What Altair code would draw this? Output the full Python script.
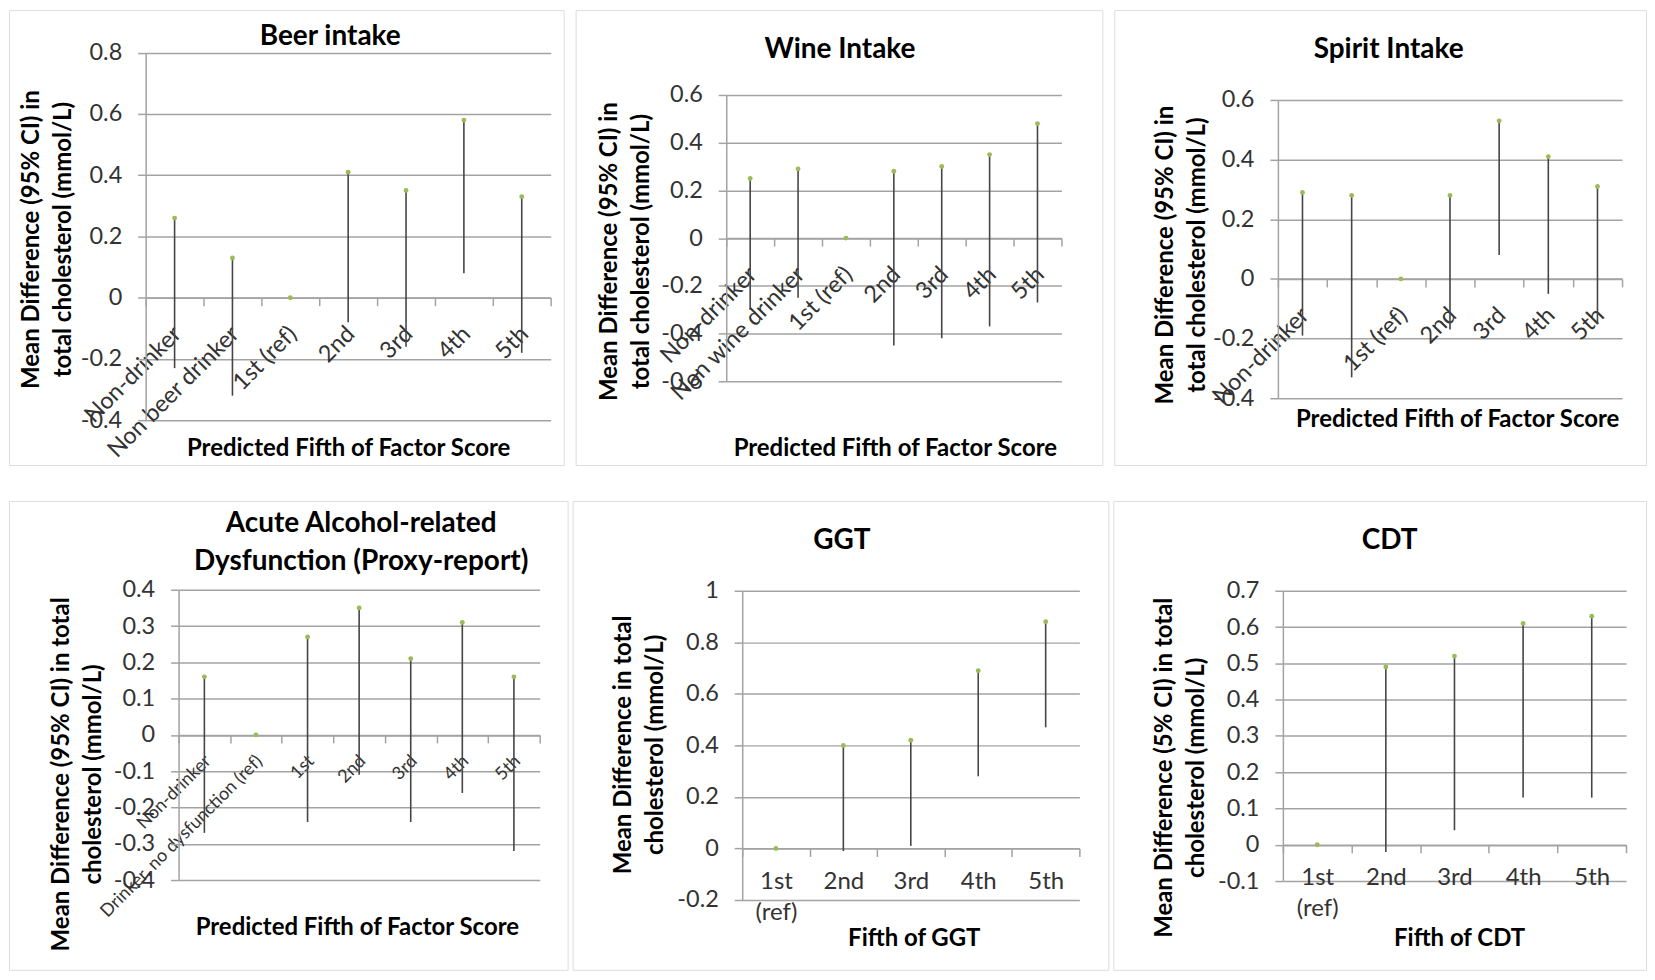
import altair as alt
import pandas as pd

FONT = "Lato"
GREEN = "#9BBB59"
LINE = "#454545"
GRID = "#a3a3a3"
TXT = "#333333"

# ---------------- data ----------------
beer_cats = ["Non-drinker", "Non beer drinker", "1st (ref)", "2nd", "3rd", "4th", "5th"]
beer_low = [-0.23, -0.32, 0.0, -0.08, -0.16, 0.08, -0.18]
beer_high = [0.26, 0.13, 0.0, 0.41, 0.35, 0.58, 0.33]
beer_ticks = [-0.4, -0.2, 0, 0.2, 0.4, 0.6, 0.8]

wine_cats = ["Non-drinker", "Non wine drinker", "1st (ref)", "2nd", "3rd", "4th", "5th"]
wine_low = [-0.30, -0.25, 0.0, -0.45, -0.42, -0.37, -0.27]
wine_high = [0.25, 0.29, 0.0, 0.28, 0.30, 0.35, 0.48]
wine_ticks = [-0.6, -0.4, -0.2, 0, 0.2, 0.4, 0.6]

spirit_cats = ["Non-drinker", " ", "1st (ref)", "2nd", "3rd", "4th", "5th"]
spirit_low = [-0.19, -0.33, 0.0, -0.17, 0.08, -0.05, -0.15]
spirit_high = [0.29, 0.28, 0.0, 0.28, 0.53, 0.41, 0.31]
spirit_ticks = [-0.4, -0.2, 0, 0.2, 0.4, 0.6]

acute_cats = ["Non-drinker", "Drinker, no dysfunction (ref)", "1st", "2nd", "3rd", "4th", "5th"]
acute_low = [-0.27, 0.0, -0.24, -0.11, -0.24, -0.16, -0.32]
acute_high = [0.16, 0.0, 0.27, 0.35, 0.21, 0.31, 0.16]
acute_ticks = [-0.4, -0.3, -0.2, -0.1, 0, 0.1, 0.2, 0.3, 0.4]

ggt_cats = ["1st\n(ref)", "2nd", "3rd", "4th", "5th"]
ggt_low = [0.0, -0.01, 0.01, 0.28, 0.47]
ggt_high = [0.0, 0.40, 0.42, 0.69, 0.88]
ggt_ticks = [-0.2, 0, 0.2, 0.4, 0.6, 0.8, 1]

cdt_cats = ["1st\n(ref)", "2nd", "3rd", "4th", "5th"]
cdt_low = [0.0, -0.02, 0.04, 0.13, 0.13]
cdt_high = [0.0, 0.49, 0.52, 0.61, 0.63]
cdt_ticks = [-0.1, 0, 0.1, 0.2, 0.3, 0.4, 0.5, 0.6, 0.7]

titles = {
    "beer": "Beer intake",
    "wine": "Wine Intake",
    "spirit": "Spirit Intake",
    "acute": "Acute Alcohol-related\nDysfunction (Proxy-report)",
    "ggt": "GGT",
    "cdt": "CDT",
}
ytitle_a = ["Mean Difference (95% CI) in", "total cholesterol (mmol/L)"]
ytitle_b = ["Mean Difference (95% CI) in total", "cholesterol (mmol/L)"]
ytitle_ggt = ["Mean Difference in total", "cholesterol (mmol/L)"]
ytitle_cdt = ["Mean Difference (5% CI) in total", "cholesterol (mmol/L)"]
xtitle_factor = "Predicted Fifth of Factor Score"
xtitle_ggt = "Fifth of GGT"
xtitle_cdt = "Fifth of CDT"

Y_LABEL_EXPR = "replace(format(datum.value, '.1~f'), '\u2212', '-')"


def panel(cats, low, high, ticks, title, ytitle, xtitle, W, H, x0, x1, yt, yb,
          title_x, title_y, ytitle_x, ytitle_y, xtitle_x, xtitle_y,
          rotated=True, cat_size=23.5, cat_pad=16, cat_shift=-6):
    df = pd.DataFrame({"cat": cats, "low": low, "high": high})
    ymin, ymax = ticks[0], ticks[-1]
    y0 = yb - (0 - ymin) / (ymax - ymin) * (yb - yt)

    xscale = alt.Scale(type="band", domain=cats, range=[x0, x1],
                       paddingInner=0, paddingOuter=0)
    yscale = alt.Scale(domain=[ymin, ymax], range=[yb, yt], nice=False, zero=False)

    xkw = dict(
        orient="bottom", offset=y0 - H, grid=False, domainColor=GRID, domainWidth=1.5,
        tickColor=GRID, tickWidth=1.5, tickSize=8, tickBand="extent",
        labelFont=FONT, labelFontSize=cat_size, labelColor=TXT, labelLimit=1000,
        labelOverlap=False, labelPadding=cat_pad,
        title=xtitle, titleFont=FONT, titleFontSize=24, titleFontWeight="bold",
        titleColor="black", titleX=xtitle_x, titleY=xtitle_y - y0, titleAlign="center",
        titleBaseline="middle", titleAngle=0, titleLimit=1000,
    )
    if rotated:
        xkw.update(labelAngle=-45, labelAlign="right", labelBaseline="top",
                   labelOffset=cat_shift)
    else:
        xkw.update(labelAngle=0, labelAlign="center", labelBaseline="top",
                   labelExpr="split(datum.label, '\\n')", labelLineHeight=31)
    xaxis = alt.Axis(**xkw)

    yaxis = alt.Axis(
        orient="left", offset=-x0, values=ticks, labelExpr=Y_LABEL_EXPR,
        grid=True, gridColor=GRID, gridWidth=1.5, domainColor=GRID, domainWidth=1.5,
        tickColor=GRID, tickWidth=1.5, tickSize=8,
        labelFont=FONT, labelFontSize=23.5, labelColor=TXT, labelPadding=16,
        labelAlign="right", labelBaseline="middle",
        title=ytitle, titleFont=FONT, titleFontSize=24, titleFontWeight="bold",
        titleColor="black", titleAngle=270, titleX=ytitle_x - x0, titleY=ytitle_y,
        titleAlign="center", titleBaseline="middle", titleLineHeight=32, titleLimit=1000,
    )

    base = alt.Chart(df)
    rules = base.mark_rule(color=LINE, strokeWidth=1.6).encode(
        x=alt.X("cat:N", scale=xscale, axis=xaxis),
        y=alt.Y("low:Q", scale=yscale, axis=yaxis),
        y2="high:Q",
    )
    pts = base.mark_point(filled=True, size=24, color=GREEN, opacity=1, shape="circle").encode(
        x=alt.X("cat:N", scale=xscale, axis=xaxis),
        y=alt.Y("high:Q", scale=yscale, axis=yaxis),
    )
    head = alt.Chart(pd.DataFrame({"t": [title]})).mark_text(
        font=FONT, fontSize=28, fontWeight="bold", color="black",
        align="center", baseline="middle", lineBreak="\n", lineHeight=38,
    ).encode(x=alt.value(title_x), y=alt.value(title_y), text="t:N")
    return alt.layer(rules, pts, head).properties(width=W, height=H)


beer = panel(beer_cats, beer_low, beer_high, beer_ticks, titles["beer"], ytitle_a, xtitle_factor,
             556, 456, 137, 543, 42.7, 411, 322, 27, 23, 229.5, 340, 439.5)
wine = panel(wine_cats, wine_low, wine_high, wine_ticks, titles["wine"], ytitle_a, xtitle_factor,
             528, 456, 151, 487, 85, 372, 265, 39.5, 34, 241.6, 320, 439.5)
spirit = panel(spirit_cats, spirit_low, spirit_high, spirit_ticks, titles["spirit"], ytitle_a, xtitle_factor,
               533, 456, 164, 509, 90, 389, 275, 39.5, 51, 245, 343.7, 410)
acute = panel(acute_cats, acute_low, acute_high, acute_ticks, titles["acute"], ytitle_b, xtitle_factor,
              560, 470, 170, 532, 89, 380, 353, 23.4, 53, 273.6, 348.7, 427.7,
              cat_size=18, cat_pad=9, cat_shift=-3)
ggt = panel(ggt_cats, ggt_low, ggt_high, ggt_ticks, titles["ggt"], ytitle_ggt, xtitle_ggt,
            537, 470, 170, 508, 90, 400, 270, 40, 50.6, 244, 342, 439, rotated=False,
            cat_size=24, cat_pad=13)
cdt = panel(cdt_cats, cdt_low, cdt_high, cdt_ticks, titles["cdt"], ytitle_cdt, xtitle_cdt,
            534, 470, 170, 514, 90, 381, 277, 40, 51, 267, 346.6, 439, rotated=False,
            cat_size=24, cat_pad=13)

row1 = alt.hconcat(beer, wine, spirit, spacing=10)
row2 = alt.hconcat(acute, ggt, cdt, spacing=3)

chart = alt.vconcat(row1, row2, spacing=34).properties(padding=0).configure_view(
    stroke="#a0a0a0", strokeWidth=2
).configure(background="white")

chart.save("out.html", embed_options={"renderer": "svg", "actions": False})
